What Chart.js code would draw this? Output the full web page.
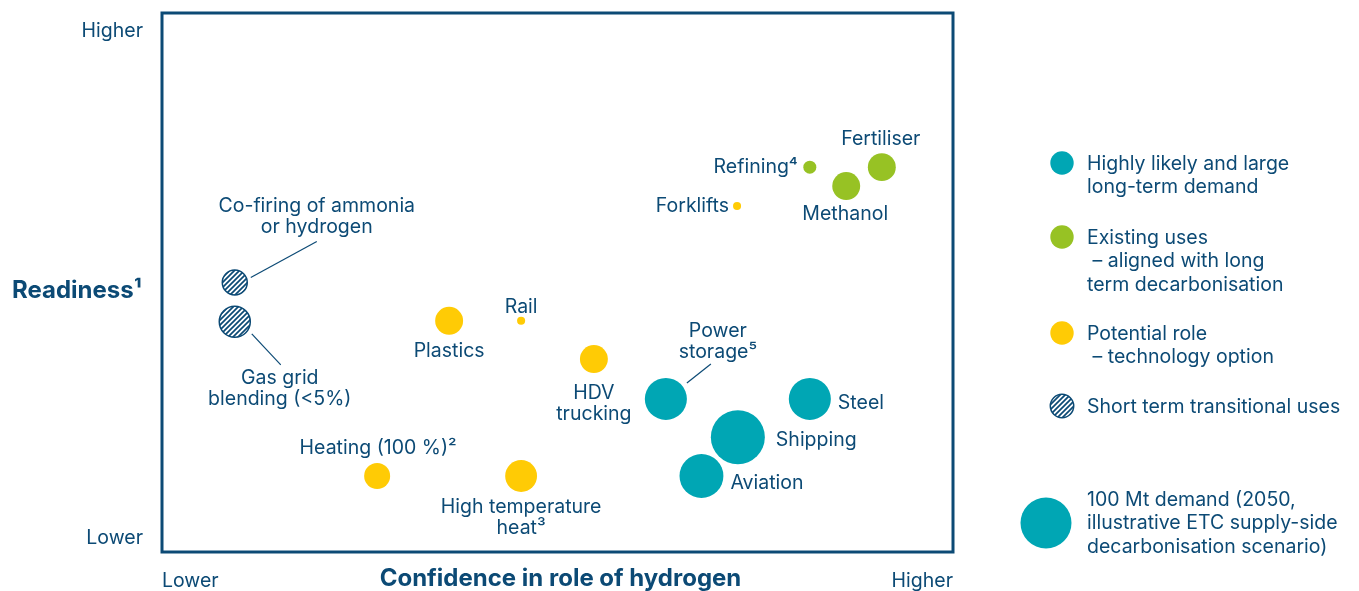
<!DOCTYPE html>
<html>
<head>
<meta charset="utf-8">
<script src="https://cdn.jsdelivr.net/npm/chart.js@4.4.1/dist/chart.umd.min.js"></script>
<style>
  body { margin: 0; background: #fff; }
  #wrap { width: 1359px; height: 591px; }
</style>
</head>
<body>
<div id="wrap"><canvas id="chart" width="1359" height="591"></canvas></div>
<script>
// ---- data ----
const names = ['Steel', 'Shipping', 'Aviation', 'Power\nstorage⁵', 'Fertiliser', 'Methanol', 'Refining⁴',
  'Forklifts', 'Plastics', 'Rail', 'HDV\ntrucking', 'Heating (100 %)²', 'High temperature\nheat³',
  'Co-firing of ammonia\nor hydrogen', 'Gas grid\nblending (<5%)'];
const confidence = [81.9, 72.8, 68.2, 63.7, 91.0, 86.5, 81.9, 72.7, 36.3, 45.4, 54.6, 27.2, 45.4, 9.2, 9.2];
const readiness = [28.4, 21.3, 14.1, 28.4, 71.4, 67.9, 71.4, 64.2, 42.9, 42.9, 35.8, 14.1, 14.1, 50.0, 42.7];
const demandMt = [68, 112, 74, 68, 30, 30, 6.5, 2.5, 30, 2.5, 30, 26, 39, 24, 37];
const group = ['likely', 'likely', 'likely', 'likely', 'existing', 'existing', 'existing',
  'potential', 'potential', 'potential', 'potential', 'potential', 'potential', 'short', 'short'];

const groups = ['likely', 'existing', 'potential', 'short'];
const groupNames = [
  ['Highly likely and large', 'long-term demand'],
  ['Existing uses', ' – aligned with long', 'term decarbonisation'],
  ['Potential role', ' – technology option'],
  ['Short term transitional uses']
];
const refDemand = 100;
const refText = ['100 Mt demand (2050,', 'illustrative ETC supply-side', 'decarbonisation scenario)'];

// ---- label placement (pixels from bubble centre) ----
// [dx, dy, align, leader line or null]
const labelPlace = [
  [28, 4, 'left', null],
  [38, 3, 'left', null],
  [29, 7, 'left', null],
  [52, -68, 'center', [21, -16, 45, -35]],
  [-1, -28, 'center', null],
  [-1, 28, 'center', null],
  [-12, 0, 'right', null],
  [-8, 0, 'right', null],
  [0, 30, 'center', null],
  [0, -14, 'center', null],
  [0, 34, 'center', null],
  [1, -28, 'center', null],
  [0, 31, 'center', null],
  [82, -76, 'center', [16, -5, 82, -41]],
  [45, 56, 'center', [17, 12, 46, 43]]
];

const NAVY = '#0c4a75';
const colours = { likely: '#00a6b4', existing: '#97c224', potential: '#ffcb05' };
const FONT = 'Inter, "Noto Sans", sans-serif';

function radiusFor(mt) { return 25.5 * Math.sqrt(mt / 100); }

// hatched fill for transitional uses
function makeHatch() {
  const pc = document.createElement('canvas');
  pc.width = 5; pc.height = 5;
  const c = pc.getContext('2d');
  c.fillStyle = '#fff';
  c.fillRect(0, 0, 5, 5);
  c.strokeStyle = NAVY;
  c.lineWidth = 1.7;
  c.beginPath();
  c.moveTo(-1, 6); c.lineTo(6, -1);
  c.moveTo(-1, 1); c.lineTo(1, -1);
  c.moveTo(4, 6); c.lineTo(6, 4);
  c.stroke();
  return c.createPattern(pc, 'repeat');
}
const hatch = makeHatch();

function fillFor(g) { return g === 'short' ? hatch : colours[g]; }

const datasets = groups.map(g => {
  const pts = [];
  names.forEach((n, i) => {
    if (group[i] === g) pts.push({ x: confidence[i], y: readiness[i], r: radiusFor(demandMt[i]) });
  });
  return {
    label: g,
    data: pts,
    backgroundColor: fillFor(g),
    borderColor: g === 'short' ? NAVY : fillFor(g),
    borderWidth: g === 'short' ? 1.5 : 0,
    hoverRadius: 0
  };
});

function lines(ctx, arr, x, y, lh) {
  arr.forEach((t, k) => ctx.fillText(t, x, y + k * lh));
}

const decor = {
  id: 'decor',
  afterDatasetsDraw(chart) {
    const { ctx, chartArea: a, scales: { x, y } } = chart;
    ctx.save();
    // frame
    ctx.strokeStyle = NAVY;
    ctx.lineWidth = 3;
    ctx.strokeRect(a.left, a.top, a.right - a.left, a.bottom - a.top);

    // bubble labels
    ctx.fillStyle = NAVY;
    ctx.font = '19.5px ' + FONT;
    ctx.textBaseline = 'middle';
    names.forEach((n, i) => {
      const px = x.getPixelForValue(confidence[i]);
      const py = y.getPixelForValue(readiness[i]);
      const [dx, dy, align, lead] = labelPlace[i];
      ctx.textAlign = align;
      lines(ctx, n.split('\n'), px + dx, py + dy, 21);
      if (lead) {
        ctx.strokeStyle = NAVY;
        ctx.lineWidth = 1.2;
        ctx.beginPath();
        ctx.moveTo(px + lead[0], py + lead[1]);
        ctx.lineTo(px + lead[2], py + lead[3]);
        ctx.stroke();
      }
    });

    // axis wording
    ctx.textAlign = 'right';
    ctx.fillText('Higher', 143, 31);
    ctx.fillText('Lower', 143, 538);
    ctx.textAlign = 'left';
    ctx.fillText('Lower', a.left, 581);
    ctx.textAlign = 'right';
    ctx.fillText('Higher', a.right, 581);
    ctx.font = 'bold 24px ' + FONT;
    ctx.textAlign = 'left';
    ctx.fillText('Readiness¹', 12, 291);
    ctx.textAlign = 'center';
    ctx.fillText('Confidence in role of hydrogen', (a.left + a.right) / 2 + 3, 579);

    // legend
    const lx = 1062, tx = 1087;
    const ly = [164, 238, 334, 407];
    ctx.font = '19.5px ' + FONT;
    ctx.textAlign = 'left';
    groups.forEach((g, k) => {
      ctx.beginPath();
      ctx.arc(lx, ly[k] - 1, 11.7, 0, Math.PI * 2);
      ctx.fillStyle = fillFor(g);
      ctx.fill();
      if (g === 'short') {
        ctx.strokeStyle = NAVY;
        ctx.lineWidth = 1.5;
        ctx.stroke();
      }
      ctx.fillStyle = NAVY;
      lines(ctx, groupNames[k], tx, ly[k], 23.5);
    });
    ctx.beginPath();
    ctx.arc(1046, 523, radiusFor(refDemand), 0, Math.PI * 2);
    ctx.fillStyle = colours.likely;
    ctx.fill();
    ctx.fillStyle = NAVY;
    lines(ctx, refText, tx, 500, 23.5);
    ctx.restore();
  }
};

new Chart(document.getElementById('chart'), {
  type: 'bubble',
  data: { datasets },
  options: {
    responsive: false,
    animation: false,
    layout: { autoPadding: false, padding: { left: 162, right: 406, top: 13, bottom: 39 } },
    scales: {
      x: { type: 'linear', min: 0, max: 100, display: false },
      y: { type: 'linear', min: 0, max: 100, display: false }
    },
    plugins: { legend: { display: false }, tooltip: { enabled: false } }
  },
  plugins: [decor]
});
</script>
</body>
</html>
